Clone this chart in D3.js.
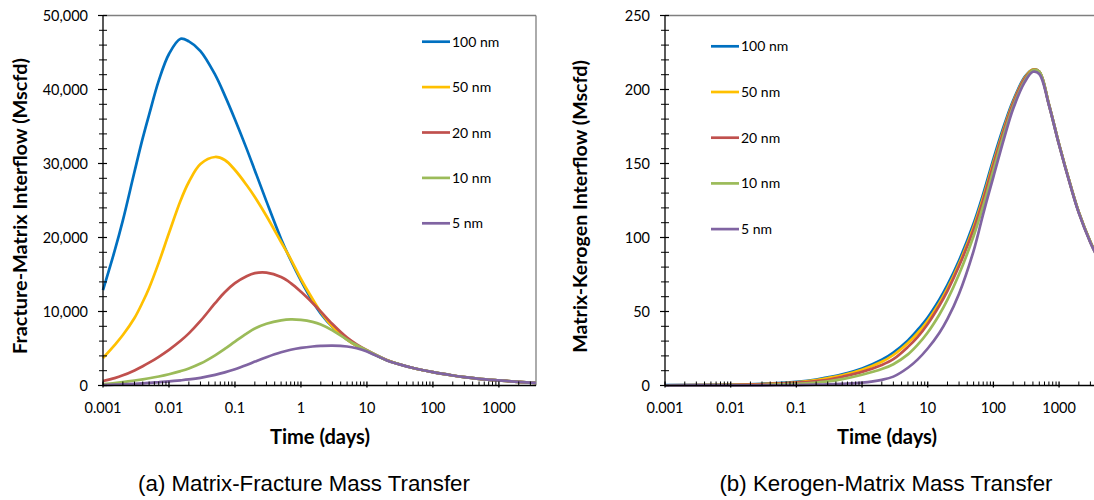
<!DOCTYPE html>
<html>
<head>
<meta charset="utf-8">
<script src="https://cdn.jsdelivr.net/npm/d3@7"></script>
<style>
  html, body { margin: 0; padding: 0; background: #fff; }
  svg { display: block; }
</style>
</head>
<body>
<svg id="chart" width="1094" height="500"></svg>
<script>
// ---------------- DATA ----------------
const seriesNames = ["100 nm", "50 nm", "20 nm", "10 nm", "5 nm"];
const seriesColors = ["#0070C0", "#FFC000", "#C0504D", "#9BBB59", "#8064A2"];
const xTickLabels = ["0.001", "0.01", "0.1", "1", "10", "100", "1000"];
const xTickValues = [0.001, 0.01, 0.1, 1, 10, 100, 1000];
const yTicksA = [0, 10000, 20000, 30000, 40000, 50000];
const yTicksB = [0, 50, 100, 150, 200, 250];

// (a) Matrix-Fracture: time (days)
const timeA = [0.001,0.0015,0.002,0.003,0.004,0.005,0.007,0.01,0.015,0.02,0.03,0.05,0.07,0.1,0.15,0.2,0.3,0.5,0.7,1,1.5,2,3,5,7,10,20,30,50,100,200,300,500,1000,2000,3650];
const a100 = [12900,18180,22310,28880,33420,36610,41200,44800,46850,46500,45200,42000,39210,35950,32010,29060,24880,19810,16930,14170,11380,9720,7920,6185,5370,4680,3420,2900,2360,1800,1350,1120,900,680,480,360];
const a50  = [3720,5470,6820,9120,11280,13180,16600,20600,25000,27500,29930,30880,30470,29120,27090,25470,22900,19390,17090,14390,11690,9930,7950,6200,5370,4690,3420,2900,2360,1800,1350,1120,900,680,480,360];
const a20  = [610,1000,1370,2040,2600,3080,3880,4820,6040,7040,8720,11120,12610,13830,14770,15180,15250,14650,13830,12660,11150,9990,8310,6470,5560,4760,3440,2900,2360,1800,1350,1120,900,680,480,360];
const a10  = [200,339,464,673,837,978,1220,1526,1944,2300,2962,4079,4943,5932,7022,7703,8341,8811,8945,8874,8596,8247,7458,6209,5441,4747,3420,2900,2360,1800,1350,1120,900,680,480,360];
const a5   = [70,116,158,233,295,349,441,553,698,818,1039,1436,1772,2200,2780,3228,3831,4493,4829,5084,5270,5345,5391,5273,5033,4605,3390,2890,2360,1800,1350,1120,900,680,480,360];

// (b) Kerogen-Matrix: time (days)
const timeB = [0.001,0.01,0.03,0.1,0.2,0.3,0.5,1,2,3,5,7,10,15,20,30,50,70,100,150,200,300,400,500,700,1000,1500,2000,3000,3650];
const b100 = [0.2,0.6,1.2,2.5,4.0,5.5,7.6,11.5,17.4,22.3,30.5,37.5,46,58,68,84.5,109.5,129.5,153,177.5,192.5,208.5,213.5,212,190,163,135,117,97,89];
const b50  = [0.15,0.5,1.0,2.2,3.7,5.0,6.9,10.6,16.0,20.6,28.7,35.3,43.8,55.6,65.6,82.2,107.2,127.1,150.7,175.8,191.3,208,213.5,212,190,163,135,117,97,89];
const b20  = [0.1,0.35,0.8,1.9,3.0,3.9,5.9,9.2,13.9,17.8,26.1,32.7,41.6,53.9,64,80.7,105.5,125.4,149.2,174.7,190.7,207.5,213.2,212,190,163,135,117,97,89];
const b10  = [0.05,0.15,0.35,1.1,2.0,2.8,4.3,7.3,11.1,14.4,21,27.4,35.8,47.8,58,75.1,101,121.3,145.5,172,188.6,206,213,212,190,163,135,117,97,89];
const b5   = [0,0.05,0.12,0.3,0.55,0.8,1.2,1.9,3.8,6,12,17.5,25,35.5,45,62,91,116,141,169,187,205,212,210.5,189.5,162.5,134.5,116.5,96.5,88.5];

const seriesA = [a100, a50, a20, a10, a5];
const seriesB = [b100, b50, b20, b10, b5];

// ---------------- DRAW ----------------
const svg = d3.select("#chart");
const tickFont = "Lato, 'Open Sans', sans-serif";
const titleFont = "Lato, 'Open Sans', sans-serif";
const captionFont = "'Liberation Sans', Arial, sans-serif";

function fitWidth(sel, target) {
  const fs = +sel.attr("font-size");
  const w = sel.node().getComputedTextLength();
  if (w > 0) sel.attr("font-size", (fs * target / w).toFixed(2));
}

function panel(cfg) {
  const x = d3.scaleLog().domain([0.001, 3650]).range([cfg.x0, cfg.x1]);
  const y = d3.scaleLinear().domain([0, cfg.ymax]).range([385.5, 15.5]);
  const g = svg.append("g");

  // frame (top & right, gray)
  g.append("line").attr("x1", cfg.x0).attr("x2", cfg.x1).attr("y1", 15.5).attr("y2", 15.5)
    .attr("stroke", "#7f7f7f").attr("stroke-width", 1.3);
  g.append("line").attr("x1", cfg.x1).attr("x2", cfg.x1).attr("y1", 15.5).attr("y2", 385.5)
    .attr("stroke", "#7f7f7f").attr("stroke-width", 1.3);

  // series
  const line = d3.line()
    .x((d, i) => x(cfg.time[i]))
    .y(d => y(d))
    .curve(d3.curveCatmullRom.alpha(0.5));
  cfg.series.forEach((s, k) => {
    g.append("path").datum(s).attr("d", line)
      .attr("fill", "none").attr("stroke", seriesColors[k])
      .attr("stroke-width", 2.7).attr("stroke-linejoin", "round");
  });

  // y axis
  const yMinor = d3.range(0, cfg.ymax + 1e-9, cfg.ymax / 25);
  g.append("g").selectAll("line").data(yMinor).join("line")
    .attr("x1", cfg.x0 - 4).attr("x2", cfg.x0 + 4)
    .attr("y1", d => y(d)).attr("y2", d => y(d))
    .attr("stroke", "#000").attr("stroke-width", 1);
  g.append("g").selectAll("line").data(cfg.yTicks).join("line")
    .attr("x1", cfg.x0 - 5).attr("x2", cfg.x0 + 4)
    .attr("y1", d => y(d)).attr("y2", d => y(d))
    .attr("stroke", "#000").attr("stroke-width", 1.2);
  g.append("g").selectAll("text").data(cfg.yTicks).join("text")
    .attr("x", cfg.x0 - 15).attr("y", d => y(d)).attr("dy", "0.36em")
    .attr("text-anchor", "end").attr("font-family", tickFont).attr("font-size", 14.5)
    .attr("fill", "#000").text(cfg.yFmt);
  g.append("line").attr("x1", cfg.x0).attr("x2", cfg.x0).attr("y1", 15.5).attr("y2", 385.5)
    .attr("stroke", "#000").attr("stroke-width", 1.3);

  // x axis
  const xMinor = [];
  for (let e = -3; e <= 3; e++) for (let m = 2; m <= 9; m++) {
    const v = m * Math.pow(10, e); if (v <= 3650) xMinor.push(v);
  }
  g.append("g").selectAll("line").data(xMinor).join("line")
    .attr("x1", d => x(d)).attr("x2", d => x(d)).attr("y1", 385.5 - 4).attr("y2", 385.5)
    .attr("stroke", "#000").attr("stroke-width", 1);
  g.append("g").selectAll("line").data(xTickValues).join("line")
    .attr("x1", d => x(d)).attr("x2", d => x(d)).attr("y1", 385.5 - 4).attr("y2", 385.5 + 2)
    .attr("stroke", "#000").attr("stroke-width", 1.3);
  g.append("g").selectAll("text").data(xTickValues).join("text")
    .attr("x", d => x(d)).attr("y", 408).attr("dy", "0.36em")
    .attr("text-anchor", "middle").attr("font-family", tickFont).attr("font-size", 14.5)
    .attr("fill", "#000").text((d, i) => xTickLabels[i]);
  g.append("line").attr("x1", cfg.x0).attr("x2", cfg.x1).attr("y1", 385.5).attr("y2", 385.5)
    .attr("stroke", "#000").attr("stroke-width", 1.3);

  // axis titles
  const xt = g.append("text").attr("x", cfg.xTitleX).attr("y", 437).attr("dy", "0.36em")
    .attr("text-anchor", "middle").attr("font-family", titleFont).attr("font-weight", "bold")
    .attr("font-size", 16).attr("fill", "#000").text("Time (days)");
  fitWidth(xt, 100);
  const yt = g.append("text")
    .attr("transform", `translate(${cfg.yTitleX},${cfg.yTitleY}) rotate(-90)`)
    .attr("dy", "0.36em").attr("text-anchor", "middle")
    .attr("font-family", titleFont).attr("font-weight", "bold").attr("font-size", 16)
    .attr("fill", "#000").text(cfg.yTitle);
  fitWidth(yt, cfg.yTitleLen);

  // legend
  seriesNames.forEach((n, k) => {
    const ly = cfg.legY0 + k * cfg.legDy;
    g.append("line").attr("x1", cfg.legX).attr("x2", cfg.legX + 28).attr("y1", ly).attr("y2", ly)
      .attr("stroke", seriesColors[k]).attr("stroke-width", 2.7);
    g.append("text").attr("x", cfg.legX + 30).attr("y", ly).attr("dy", "0.36em")
      .attr("font-family", tickFont).attr("font-size", 14).attr("fill", "#000").text(n);
  });

  // caption
  const cap = g.append("text").attr("x", cfg.capX).attr("y", 483).attr("dy", "0.36em")
    .attr("text-anchor", "middle").attr("font-family", captionFont).attr("font-size", 20)
    .attr("fill", "#000").text(cfg.caption);
  return cap;
}

const capA = panel({
  x0: 103, x1: 536, ymax: 50000, time: timeA, series: seriesA, yTicks: yTicksA,
  yFmt: d3.format(","), xTitleX: 320, yTitleX: 20, yTitleY: 206, yTitleLen: 296,
  yTitle: "Fracture-Matrix Interflow (Mscfd)",
  legX: 422, legY0: 41.7, legDy: 45.4,
  capX: 304, caption: "(a) Matrix-Fracture Mass Transfer"
});
const capB = panel({
  x0: 665, x1: 1096, ymax: 250, time: timeB, series: seriesB, yTicks: yTicksB,
  yFmt: d3.format("d"), xTitleX: 887, yTitleX: 580, yTitleY: 206.5, yTitleLen: 293,
  yTitle: "Matrix-Kerogen Interflow (Mscfd)",
  legX: 711, legY0: 46.3, legDy: 45.7,
  capX: 886, caption: "(b) Kerogen-Matrix Mass Transfer"
});
fitWidth(capA, 332);
capB.attr("font-size", capA.attr("font-size"));
</script>
</body>
</html>
